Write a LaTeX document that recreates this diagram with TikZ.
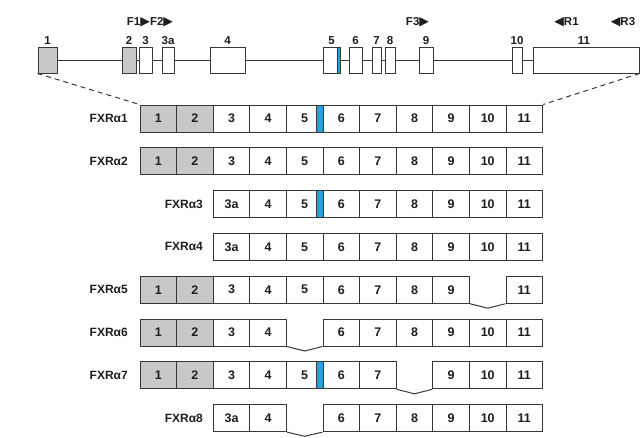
\documentclass[tikz,border=0pt]{standalone}
\usepackage{fontspec}
\setmainfont{Liberation Sans}
\newfontfamily\symfont{DejaVu Sans}
\definecolor{exgray}{RGB}{200,200,200}
\definecolor{exblue}{RGB}{40,160,220}
\definecolor{ln}{RGB}{55,55,55}
\definecolor{tx}{RGB}{30,30,30}
\newcommand{\tri}[1]{{\symfont\fontsize{12.5}{14}\selectfont #1}}
\begin{document}
\begin{tikzpicture}[x=1pt,y=-1pt,
  cell/.style={draw=ln,line width=1pt,minimum width=36.6pt,minimum height=27pt,inner sep=0pt,
    text=tx,font=\bfseries\fontsize{12.5}{14}\selectfont},
  bluestrip/.style={draw=ln,line width=1pt,fill=exblue,minimum width=6.7pt,minimum height=27pt,inner sep=0pt},
  exon/.style={draw=ln,line width=1pt,fill=white,minimum height=26pt,inner sep=0pt},
  gexon/.style={exon,fill=exgray},
  glabel/.style={anchor=south,inner sep=0pt,yshift=2pt,text=tx,font=\bfseries\fontsize{11.5}{13}\selectfont},
  plabel/.style={inner sep=0pt,text=tx,font=\bfseries\fontsize{11.5}{13}\selectfont},
  rlabel/.style={anchor=east,inner sep=0pt,text=tx,font=\bfseries\fontsize{12}{13}\selectfont},
  conn/.style={draw=ln,line width=1pt},
  zoomline/.style={draw=ln,line width=1pt,dash pattern=on 5pt off 4pt}]
\useasboundingbox (0,0) rectangle (643,437);

% ---- gene structure ----
\node[gexon,minimum width=19pt] (e1) at (47.5,60) {};
\node[gexon,minimum width=14pt] (e2) at (129,60) {};
\node[exon,minimum width=13pt] (e3) at (145.5,60) {};
\node[exon,minimum width=12pt] (e3a) at (168,60) {};
\node[exon,minimum width=35pt] (e4) at (227.5,60) {};
\node[exon,minimum width=17pt] (e5) at (331.5,60) {};
\node[exon,minimum width=13pt] (e6) at (355.5,60) {};
\node[exon,minimum width=9pt] (e7) at (376.5,60) {};
\node[exon,minimum width=10pt] (e8) at (390,60) {};
\node[exon,minimum width=14pt] (e9) at (426,60) {};
\node[exon,minimum width=10pt] (e10) at (517,60) {};
\node[exon,minimum width=106pt] (e11) at (586,60) {};
% intron line drawn between exons
\draw[conn] (e1.east) -- (e2.west);
\draw[conn] (e2.east) -- (e3.west);
\draw[conn] (e3.east) -- (e3a.west);
\draw[conn] (e3a.east) -- (e4.west);
\draw[conn] (e4.east) -- (e5.west);
\draw[conn] (e5.east) -- (e6.west);
\draw[conn] (e6.east) -- (e7.west);
\draw[conn] (e7.east) -- (e8.west);
\draw[conn] (e8.east) -- (e9.west);
\draw[conn] (e9.east) -- (e10.west);
\draw[conn] (e10.east) -- (e11.west);
\node[draw=ln,line width=1pt,fill=exblue,minimum width=3pt,minimum height=26pt,inner sep=0pt,anchor=east] (e5b) at (e5.east) {};

\node[glabel] (l1) at (e1.north) {1};
\node[glabel] (l2) at (e2.north) {2};
\node[glabel] (l3) at (e3.north) {3};
\node[glabel] (l3a) at (e3a.north) {3a};
\node[glabel] (l4) at (e4.north) {4};
\node[glabel] (l5) at (e5.north) {5};
\node[glabel] (l6) at (e6.north) {6};
\node[glabel] (l7) at (e7.north) {7};
\node[glabel] (l8) at (e8.north) {8};
\node[glabel] (l9) at (e9.north) {9};
\node[glabel] (l10) at (e10.north) {10};
\node[glabel,xshift=-2pt] (l11) at (e11.north) {11};

\node[plabel] (pF12) at (150,22) {F1\tri{▶}F2\tri{▶}};
\node[plabel] (pF3) at (417.5,22) {F3\tri{▶}};
\node[plabel] (pR1) at (566.5,22) {\tri{◀}R1};
\node[plabel] (pR3) at (623,22) {\tri{◀}R3};

% ---- transcripts ----
\def\xo{158.3}
% row 1
\foreach \c/\t/\f in {0/1/exgray,1/2/exgray,2/3/white,3/4/white,4/5/white,5/6/white,6/7/white,7/8/white,8/9/white,9/10/white,10/11/white}
  \node[cell,fill=\f] (r1c\c) at ({\xo+36.6*\c},118.5) {\t};
\node[bluestrip] (r1b) at (319.65,118.5) {};
\node[rlabel] (n1) at (128,118.5) {FXRα1};
% row 2
\foreach \c/\t/\f in {0/1/exgray,1/2/exgray,2/3/white,3/4/white,4/5/white,5/6/white,6/7/white,7/8/white,8/9/white,9/10/white,10/11/white}
  \node[cell,fill=\f] (r2c\c) at ({\xo+36.6*\c},161.3) {\t};
\node[rlabel] (n2) at (128,161.3) {FXRα2};
% row 3
\foreach \c/\t in {2/3a,3/4,4/5,5/6,6/7,7/8,8/9,9/10,10/11}
  \node[cell,fill=white] (r3c\c) at ({\xo+36.6*\c},204.1) {\t};
\node[bluestrip] (r3b) at (319.65,204.1) {};
\node[rlabel] (n3) at (203,204.1) {FXRα3};
% row 4
\foreach \c/\t in {2/3a,3/4,4/5,5/6,6/7,7/8,8/9,9/10,10/11}
  \node[cell,fill=white] (r4c\c) at ({\xo+36.6*\c},246.9) {\t};
\node[rlabel] (n4) at (203,246.9) {FXRα4};
% row 5
\foreach \c/\t/\f in {0/1/exgray,1/2/exgray,2/3/white,3/4/white,4/5/white,5/6/white,6/7/white,7/8/white,8/9/white,10/11/white}
  \node[cell,fill=\f] (r5c\c) at ({\xo+36.6*\c},289.7) {\t};
\node[rlabel] (n5) at (128,289.7) {FXRα5};
\coordinate (v5) at ({\xo+36.6*9},308.2);
\draw[conn] (r5c8.south east) -- (v5) -- (r5c10.south west);
% row 6
\foreach \c/\t/\f in {0/1/exgray,1/2/exgray,2/3/white,3/4/white,5/6/white,6/7/white,7/8/white,8/9/white,9/10/white,10/11/white}
  \node[cell,fill=\f] (r6c\c) at ({\xo+36.6*\c},332.5) {\t};
\node[rlabel] (n6) at (128,332.5) {FXRα6};
\coordinate (v6) at ({\xo+36.6*4},351);
\draw[conn] (r6c3.south east) -- (v6) -- (r6c5.south west);
% row 7
\foreach \c/\t/\f in {0/1/exgray,1/2/exgray,2/3/white,3/4/white,4/5/white,5/6/white,6/7/white,8/9/white,9/10/white,10/11/white}
  \node[cell,fill=\f] (r7c\c) at ({\xo+36.6*\c},375.3) {\t};
\node[bluestrip] (r7b) at (319.65,375.3) {};
\node[rlabel] (n7) at (128,375.3) {FXRα7};
\coordinate (v7) at ({\xo+36.6*7},393.8);
\draw[conn] (r7c6.south east) -- (v7) -- (r7c8.south west);
% row 8
\foreach \c/\t in {2/3a,3/4,5/6,6/7,7/8,8/9,9/10,10/11}
  \node[cell,fill=white] (r8c\c) at ({\xo+36.6*\c},418.1) {\t};
\node[rlabel] (n8) at (203,418.1) {FXRα8};
\coordinate (v8) at ({\xo+36.6*4},436.3);
\draw[conn] (r8c3.south east) -- (v8) -- (r8c5.south west);

% ---- zoom lines ----
\draw[zoomline] (e1.south west) -- (r1c0.north west);
\draw[zoomline] (e11.south east) -- (r1c10.north east);
\end{tikzpicture}
\end{document}
